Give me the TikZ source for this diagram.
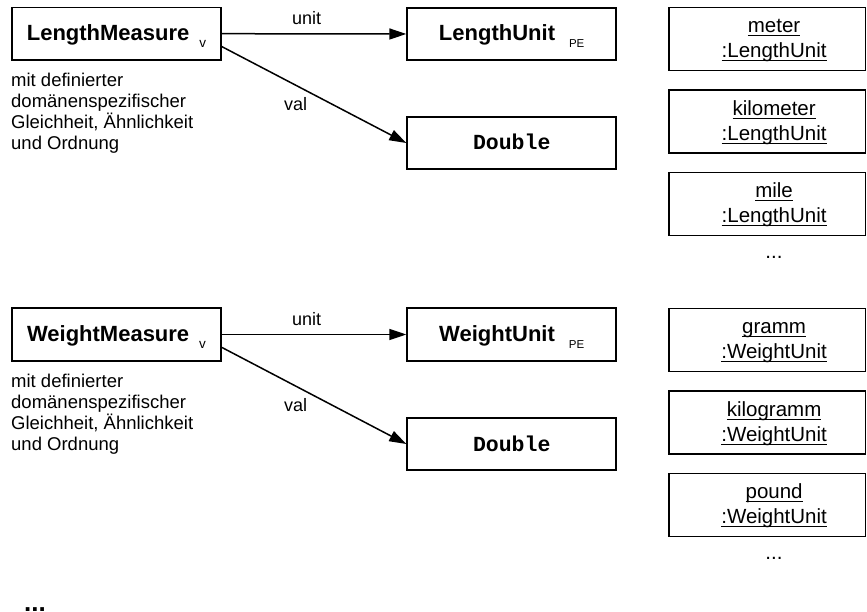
\documentclass[tikz,border=0pt]{standalone}
\usepackage{fontspec}
\setmainfont{Liberation Sans}
\setmonofont{Liberation Mono}
\usetikzlibrary{arrows.meta}
\newcommand\myul[1]{\setbox0\hbox{#1}\rlap{\rule[-3.5pt]{\wd0}{1.1pt}}\box0\rule[-3.5pt]{0pt}{20pt}}
\newcommand\mysub[2][11.5]{\raisebox{-7pt}{\fontsize{#1}{12}\selectfont\mdseries #2}}
\begin{document}
\begin{tikzpicture}[x=1pt,y=-1pt,
  cls/.style={draw, line width=1.8pt, minimum width=209pt, minimum height=52.5pt,
    inner sep=0pt, text height=14pt, text depth=0pt,
    font=\fontsize{22}{26}\selectfont\bfseries},
  dtype/.style={cls, font=\fontsize{21.5}{26}\selectfont\ttfamily\bfseries},
  obj/.style={draw, line width=1.8pt, minimum width=196.8pt, minimum height=63pt, inner sep=0pt},
  objtext/.style={align=center, inner sep=0pt, font=\fontsize{20.5}{25}\selectfont},
  desc/.style={align=left, inner sep=0pt, anchor=north west, font=\fontsize{18.5}{21}\selectfont},
  conn/.style={line width=1.5pt, -{Triangle[length=17pt,width=11pt]}},
  lbl/.style={inner sep=0pt, font=\fontsize{18}{21}\selectfont},
  dots/.style={inner sep=0pt, anchor=base, font=\fontsize{20.5}{25}\selectfont}]
\useasboundingbox (0,0) rectangle (867,612);

% ---------- Length group ----------
\node[cls] (LM) at (116.5,33.7) {LengthMeasure\hspace{10pt}\mysub[13.5]{v}};
\node[cls] (LU) at (511.7,34) {LengthUnit\hspace{14pt}\mysub{PE}};
\node[dtype] (D1) at (511.7,143) {Double};
\node[desc] (LMd) at (11,73) {mit definierter\\domänenspezifischer\\Gleichheit, Ähnlichkeit\\und Ordnung};
\draw[conn] (LM.east) -- node[lbl, pos=0.46, above=8pt] (LMunit) {unit} (LU.west);
\draw[conn] (LM.-7.6) -- node[lbl, pos=0.4, below=12pt] (LMval) {val} (D1.west);

\node[obj, label={[objtext, xshift=7pt]center:{\myul{meter}\\\myul{:LengthUnit}}}] (O1) at (767.1,39) {};
\node[obj, label={[objtext, xshift=7pt]center:{\myul{kilometer}\\\myul{:LengthUnit}}}] (O2) at (767.1,121.5) {};
\node[obj, label={[objtext, xshift=7pt]center:{\myul{mile}\\\myul{:LengthUnit}}}] (O3) at (767.1,204) {};
\node[dots] (O4) at (774,259) {...};

% ---------- Weight group ----------
\node[cls] (WM) at (116.5,334.5) {WeightMeasure\hspace{10pt}\mysub[13.5]{v}};
\node[cls] (WU) at (511.7,334.5) {WeightUnit\hspace{14pt}\mysub{PE}};
\node[dtype] (D2) at (511.7,444) {Double};
\node[desc] (WMd) at (11,373.5) {mit definierter\\domänenspezifischer\\Gleichheit, Ähnlichkeit\\und Ordnung};
\draw[conn] (WM.east) -- node[lbl, pos=0.46, above=8pt] (WMunit) {unit} (WU.west);
\draw[conn] (WM.-7.6) -- node[lbl, pos=0.4, below=12pt] (WMval) {val} (D2.west);

\node[obj, label={[objtext, xshift=7pt]center:{\myul{gramm}\\\myul{:WeightUnit}}}] (P1) at (767.1,340) {};
\node[obj, label={[objtext, xshift=7pt]center:{\myul{kilogramm}\\\myul{:WeightUnit}}}] (P2) at (767.1,422.5) {};
\node[obj, label={[objtext, xshift=7pt]center:{\myul{pound}\\\myul{:WeightUnit}}}] (P3) at (767.1,505) {};
\node[dots] (P4) at (774,559) {...};

% ---------- more ----------
\node[inner sep=0pt, anchor=base west, font=\fontsize{26}{30}\selectfont\bfseries] (more) at (24,611) {...};
\end{tikzpicture}
\end{document}
